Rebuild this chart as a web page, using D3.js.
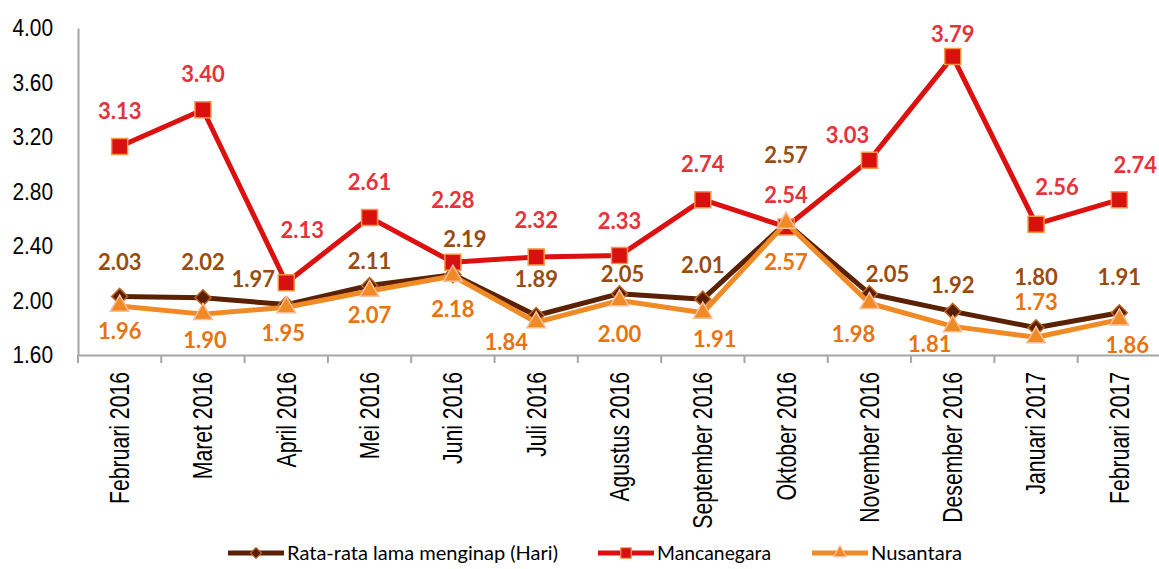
<!DOCTYPE html>
<html>
<head>
<meta charset="utf-8">
<script src="https://cdn.jsdelivr.net/npm/d3@7"></script>
<style>
  body { margin: 0; background: #fff; }
  svg { display: block; }
</style>
</head>
<body>
<svg id="chart"></svg>
<script>
let categories = [
  'Februari 2016', 'Maret 2016', 'April 2016', 'Mei 2016', 'Juni 2016', 'Juli 2016',
  'Agustus 2016', 'September 2016', 'Oktober 2016', 'November 2016', 'Desember 2016',
  'Januari 2017', 'Februari 2017'
]
let rataRata = [2.03, 2.02, 1.97, 2.11, 2.19, 1.89, 2.05, 2.01, 2.57, 2.05, 1.92, 1.80, 1.91]
let mancanegara = [3.13, 3.40, 2.13, 2.61, 2.28, 2.32, 2.33, 2.74, 2.54, 3.03, 3.79, 2.56, 2.74]
let nusantara = [1.96, 1.90, 1.95, 2.07, 2.18, 1.84, 2.00, 1.91, 2.57, 1.98, 1.81, 1.73, 1.86]
let yTicks = [1.6, 2.0, 2.4, 2.8, 3.2, 3.6, 4.0]
let seriesNames = ['Rata-rata lama menginap (Hari)', 'Mancanegara', 'Nusantara']

// where each value label sits relative to its marker (dx, dy to baseline)
let rataLabelPos = [[0, -26], [0, -28], [-33, -18], [0, -17], [12, -28], [0, -28], [3, -12],
  [0, -26], [0, -60], [18, -12], [0, -18], [0, -43], [0, -28]]
let mancaLabelPos = [[0, -28], [0, -28], [16, -45], [0, -27], [0, -54], [0, -29], [0, -27],
  [0, -28], [0, -24], [-22, -17], [0, -15], [21, -29], [16, -27]]
let nusaLabelPos = [[0, 33], [2, 34], [-3, 34], [0, 32], [0, 41], [-30, 28], [0, 41],
  [12, 34], [0, 47], [-16, 39], [-23, 26], [0, -27], [8, 33]]

let svgWidth = 1159
let svgHeight = 569
let svg = d3.select('#chart')
  .attr('width', svgWidth)
  .attr('height', svgHeight)

let x = d3.scaleBand()
  .domain(categories)
  .range([78, 1161])
  .padding(0)

let y = d3.scaleLinear()
  .domain([1.6, 4.0])
  .range([355, 28])

let cx = (i) => x(categories[i]) + x.bandwidth() / 2

// y axis
let yAxis = svg.append('g')
  .attr('transform', 'translate(78,0)')
  .call(d3.axisLeft(y).tickValues(yTicks).tickFormat(d3.format('.2f')).tickSize(0).tickSizeOuter(0))
yAxis.select('.domain').attr('stroke', '#a6a6a6').attr('stroke-width', 2)
yAxis.selectAll('text')
  .attr('x', -25 / 0.87)
  .attr('transform', 'scale(0.87,1)')
  .attr('fill', '#000')
  .style('font-family', '"Liberation Sans", Arial, sans-serif')
  .style('font-size', '24px')

// x axis
let xAxis = svg.append('g')
  .attr('transform', 'translate(0,355)')
  .call(d3.axisBottom(x).tickSize(0).tickSizeOuter(0).tickFormat(''))
xAxis.select('.domain').attr('stroke', '#a6a6a6').attr('stroke-width', 2)
let bounds = categories.map((c) => x(c)).concat([x.range()[1]])
xAxis.selectAll('.bound')
  .data(bounds)
  .enter().append('line')
  .attr('class', 'bound')
  .attr('x1', (d) => d).attr('x2', (d) => d)
  .attr('y1', 0).attr('y2', 8)
  .attr('stroke', '#a6a6a6')
  .attr('stroke-width', 2)

svg.append('g')
  .selectAll('text')
  .data(categories)
  .enter().append('text')
  .attr('transform', (d) => `translate(${x(d) + x.bandwidth() / 2},372) rotate(-90) scale(0.785,1)`)
  .attr('text-anchor', 'end')
  .attr('dy', '0.35em')
  .attr('fill', '#000')
  .style('font-family', '"Liberation Sans", Arial, sans-serif')
  .style('font-size', '27px')
  .text((d) => d)

let line = d3.line()
  .x((d, i) => cx(i))
  .y((d) => y(d))

let diamond = d3.symbol().type(d3.symbolSquare)
let square = d3.symbol().type(d3.symbolSquare)
let triangle = d3.symbol().type(d3.symbolTriangle)

let series = [
  { values: rataRata, line: '#5a2104', fill: '#5a1f03', stroke: '#c0661e', label: '#9a4c10',
    shape: diamond.size(128)(), rot: 45, pos: rataLabelPos },
  { values: mancanegara, line: '#dd1010', fill: '#d8100e', stroke: '#f79646', label: '#e6323a',
    shape: square.size(256)(), rot: 0, pos: mancaLabelPos },
  { values: nusantara, line: '#f08a24', fill: '#f08a24', stroke: '#f9bd9c', label: '#e8730f',
    shape: triangle.size(150)(), rot: 0, pos: nusaLabelPos }
]

series.forEach((s) => {
  svg.append('path')
    .datum(s.values)
    .attr('d', line)
    .attr('fill', 'none')
    .attr('stroke', s.line)
    .attr('stroke-width', 5)
    .attr('stroke-linejoin', 'round')
  svg.append('g')
    .selectAll('path')
    .data(s.values)
    .enter().append('path')
    .attr('d', s.shape)
    .attr('transform', (d, i) => `translate(${cx(i)},${y(d)}) rotate(${s.rot})`)
    .attr('fill', s.fill)
    .attr('stroke', s.stroke)
    .attr('stroke-width', 1.5)
})

series.forEach((s) => {
  svg.append('g')
    .selectAll('text')
    .data(s.values)
    .enter().append('text')
    .attr('x', (d, i) => cx(i) + s.pos[i][0])
    .attr('y', (d, i) => y(d) + s.pos[i][1])
    .attr('text-anchor', 'middle')
    .attr('fill', s.label)
    .style('font-family', 'Lato, "Open Sans", sans-serif')
    .style('font-weight', 'bold')
    .style('font-size', '22px')
    .text((d) => d.toFixed(2))
})

// legend
let legendX = [228, 598, 812]
let legendTextLen = [271, 114, 91]
let legendShapes = [diamond.size(60)(), square.size(110)(), triangle.size(70)()]
let legend = svg.append('g').attr('transform', 'translate(0,553)')
series.forEach((s, i) => {
  let g = legend.append('g').attr('transform', `translate(${legendX[i]},0)`)
  g.append('line')
    .attr('x1', 0).attr('x2', 56)
    .attr('stroke', s.line)
    .attr('stroke-width', 5)
  g.append('path')
    .attr('d', legendShapes[i])
    .attr('transform', `translate(28,0) rotate(${s.rot})`)
    .attr('fill', s.fill)
    .attr('stroke', s.stroke)
    .attr('stroke-width', 1.2)
  g.append('text')
    .attr('x', 59)
    .attr('dy', '0.35em')
    .attr('textLength', legendTextLen[i])
    .attr('lengthAdjust', 'spacingAndGlyphs')
    .attr('fill', '#000')
    .style('font-family', 'Lato, sans-serif')
    .style('font-size', '19px')
    .text(seriesNames[i])
})
</script>
</body>
</html>
